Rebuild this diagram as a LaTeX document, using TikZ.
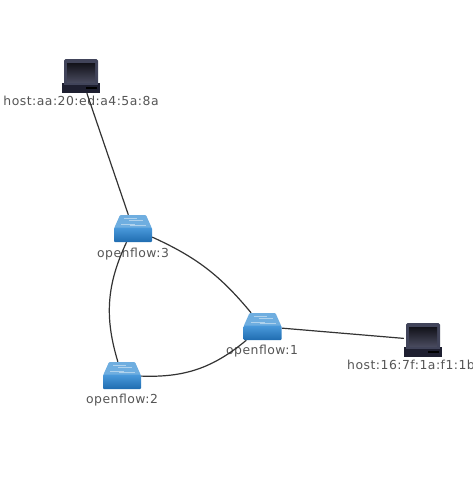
\documentclass[tikz,border=0pt]{standalone}
\usepackage{fontspec}
\setmainfont{DejaVu Sans}[LetterSpace=4]
\usetikzlibrary{positioning}
\definecolor{linkgray}{HTML}{333333}
\definecolor{labelgray}{HTML}{555555}
\definecolor{switchtop}{HTML}{6FAEE0}
\definecolor{switchhigh}{HTML}{4A9ADB}
\definecolor{switchlow}{HTML}{1F6CB0}
\definecolor{lapbezel}{HTML}{41445A}
\definecolor{lapdark}{HTML}{12121A}
\definecolor{lapscreen}{HTML}{4A4C60}
\definecolor{lapbase}{HTML}{1E1F30}
\tikzset{
  % Invisible anchors, the icons are drawn over the links
  hostbox/.style={rectangle, minimum width=38pt, minimum height=34pt, inner sep=0pt},
  switchbox/.style={rectangle, minimum width=38pt, minimum height=27pt, inner sep=0pt},
  devlabel/.style={font=\fontsize{12.4}{14}\selectfont, text=labelgray, inner sep=0pt},
  link/.style={draw=linkgray, line width=1.2pt},
  switch icon/.pic={
    \fill[switchtop, rounded corners=1pt] (-13,-13.5) -- (13,-13.5) -- (19,0) -- (-19,0) -- cycle;
    \draw[white, opacity=0.45, line width=0.7pt] (-9,-10) -- (4,-10) (-4,-8) -- (10,-8) (-12,-4.5) -- (2,-4.5) (-3,-3) -- (13,-3);
    \shade[top color=switchhigh, bottom color=switchlow, rounded corners=1pt] (-19,-1) rectangle (19,13.5);
  },
  laptop icon/.pic={
    \fill[lapbezel, rounded corners=1.5pt] (-17,-17) rectangle (17,8);
    \shade[top color=lapdark, bottom color=lapscreen] (-14,-13) rectangle (14,7);
    \fill[lapbase] (-19,7) -- (19,7) -- (19,17) -- (-19,17) -- cycle;
    \fill[lapbezel] (-17,7) rectangle (17,9);
    \fill[black] (5,11) rectangle (16,12.5);
  }
}

\begin{document}
\begin{tikzpicture}[x=1pt, y=-1pt]
\useasboundingbox (0,0) rectangle (472,496);
\clip (0,0) rectangle (472,496);

% Devices
\node[hostbox] (host1) at (81,76) {};
\node[hostbox] (host2) at (423,340) {};
\node[switchbox] (openflow3) at (133,228.5) {};
\node[switchbox] (openflow1) at (262.5,326.5) {};
\node[switchbox] (openflow2) at (122,375.5) {};

% Labels
\node[devlabel] (host1label) at (81,101) {host:aa:20:ed:a4:5a:8a};
\node[devlabel, anchor=west] (host2label) at (347,365) {host:16:7f:1a:f1:1b};
\node[devlabel] (openflow3label) at (133,254.5) {openflow:3};
\node[devlabel] (openflow1label) at (262,351.5) {openflow:1};
\node[devlabel] (openflow2label) at (122,400.5) {openflow:2};

% Links
\draw[link] (host1) -- (openflow3);
\draw[link] (openflow1) -- (host2);
\draw[link] (openflow3) to[bend left=13] (openflow1);
\draw[link] (openflow1) to[bend left=21] (openflow2);
\draw[link] (openflow3) to[bend right=21] (openflow2);

% Icons
\pic at (host1) {laptop icon};
\pic at (host2) {laptop icon};
\pic at (openflow3) {switch icon};
\pic at (openflow1) {switch icon};
\pic at (openflow2) {switch icon};

\end{tikzpicture}
\end{document}
